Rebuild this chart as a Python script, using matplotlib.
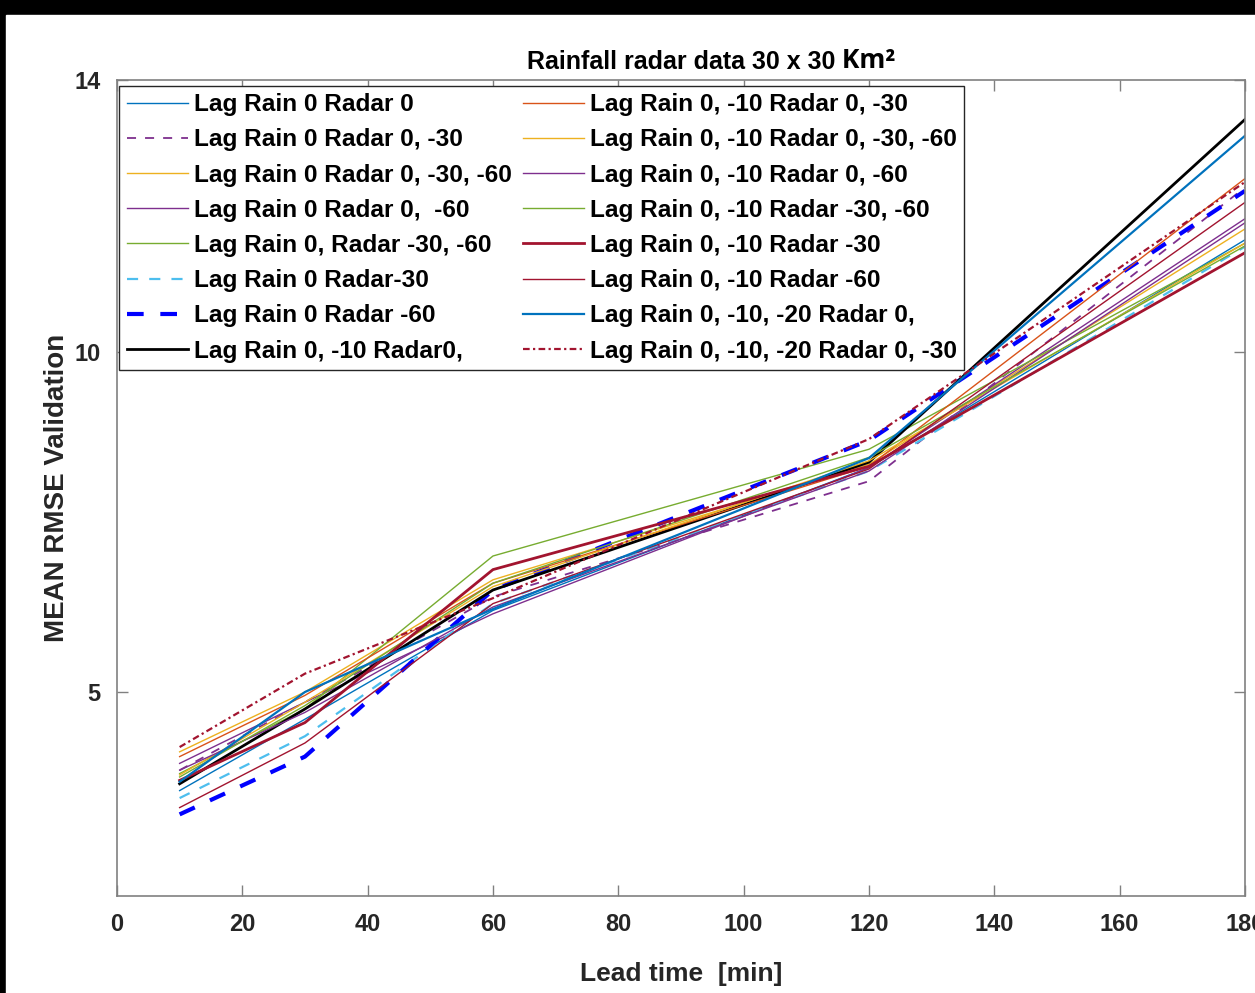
import matplotlib
matplotlib.use('Agg')
import matplotlib.pyplot as plt
from matplotlib.patches import Rectangle

plt.rcParams['font.family'] = ['Liberation Sans', 'DejaVu Sans']
plt.rcParams['font.weight'] = 'bold'

lead_time = [10, 30, 60, 120, 180]

labels = [
    'Lag Rain 0 Radar 0',
    'Lag Rain 0 Radar 0, -30',
    'Lag Rain 0 Radar 0, -30, -60',
    'Lag Rain 0 Radar 0,  -60',
    'Lag Rain 0, Radar -30, -60',
    'Lag Rain 0 Radar-30',
    'Lag Rain 0 Radar -60',
    'Lag Rain 0, -10 Radar0,',
    'Lag Rain 0, -10 Radar 0, -30',
    'Lag Rain 0, -10 Radar 0, -30, -60',
    'Lag Rain 0, -10 Radar 0, -60',
    'Lag Rain 0, -10 Radar -30, -60',
    'Lag Rain 0, -10 Radar -30',
    'Lag Rain 0, -10 Radar -60',
    'Lag Rain 0, -10, -20 Radar 0,',
    'Lag Rain 0, -10, -20 Radar 0, -30',
]

rain0_radar0 = [3.55, 4.60, 6.20, 8.30, 11.65]
rain0_radar0_30 = [3.85, 4.85, 6.40, 8.10, 12.42]
rain0_radar0_30_60 = [4.12, 5.00, 6.65, 8.35, 11.81]
rain0_radar0_60 = [3.95, 4.85, 6.15, 8.30, 11.96]
rain0_radar30_60 = [3.80, 4.75, 7.00, 8.57, 11.60]
rain0_radar30 = [3.44, 4.35, 6.30, 8.25, 11.55]
rain0_radar60 = [3.20, 4.05, 6.50, 8.70, 12.37]
rain10_radar0 = [3.65, 4.75, 6.50, 8.38, 13.42]
rain10_radar0_30 = [4.05, 4.95, 6.60, 8.32, 12.55]
rain10_radar0_30_60 = [3.78, 4.85, 6.55, 8.40, 11.60]
rain10_radar0_60 = [3.85, 4.70, 6.25, 8.25, 11.90]
rain10_radar30_60 = [3.75, 4.80, 6.60, 8.45, 11.56]
rain10_radar30 = [3.70, 4.55, 6.80, 8.32, 11.46]
rain10_radar60 = [3.30, 4.25, 6.30, 8.28, 12.20]
rain20_radar0 = [3.68, 5.00, 6.22, 8.44, 13.18]
rain20_radar0_30 = [4.19, 5.27, 6.38, 8.72, 12.50]

series = [rain0_radar0, rain0_radar0_30, rain0_radar0_30_60, rain0_radar0_60,
          rain0_radar30_60, rain0_radar30, rain0_radar60, rain10_radar0,
          rain10_radar0_30, rain10_radar0_30_60, rain10_radar0_60, rain10_radar30_60,
          rain10_radar30, rain10_radar60, rain20_radar0, rain20_radar0_30]

# colour, linestyle, linewidth
styles = [
    ('#0072BD', '-', 1.0),
    ('#7E2F8E', (0, (5, 5)), 1.3),
    ('#EDB120', '-', 1.0),
    ('#7E2F8E', '-', 1.0),
    ('#77AC30', '-', 1.0),
    ('#4DBEEE', (0, (5, 5)), 1.6),
    ('#0000FF', (0, (4, 4)), 3.0),
    ('#000000', '-', 2.0),
    ('#D95319', '-', 1.0),
    ('#EDB120', '-', 1.0),
    ('#7E2F8E', '-', 1.0),
    ('#77AC30', '-', 1.0),
    ('#A2142F', '-', 2.0),
    ('#A2142F', '-', 1.0),
    ('#0072BD', '-', 1.6),
    ('#A2142F', (0, (3, 1.5, 1, 1.5)), 1.6),
]

fig = plt.figure(figsize=(12.55, 9.93), dpi=100)
fig.patch.set_facecolor('black')
fig.add_artist(Rectangle((6 / 1255, 0), 1, (993 - 15) / 993,
                         transform=fig.transFigure, color='white', zorder=-1))
ax = fig.add_axes([0.0932, 0.0977, 0.8988, 0.8217])

for vals, lab, (c, ls, lw) in zip(series, labels, styles):
    ax.plot(lead_time, vals, color=c, linestyle=ls, linewidth=lw, label=lab)

ax.set_xlim(0, 180)
ax.set_ylim(2, 14)
ax.set_xticks(range(0, 181, 20))
ax.set_yticks([5, 10, 14])
ax.tick_params(direction='in', top=True, right=True, length=8, width=1,
               colors='#808080', labelcolor='#262626', labelsize=17, pad=12)
for s in ax.spines.values():
    s.set_color('#808080')
    s.set_linewidth(1.2)

ax.set_xlabel('Lead time  [min]', fontsize=19, fontweight='bold', color='#262626', labelpad=19)
ax.set_ylabel('MEAN RMSE Validation', fontsize=20, fontweight='bold', color='#262626', labelpad=3)

t = ax.set_title('Rainfall radar data 30 x 30', fontsize=18, fontweight='bold', pad=8)
ax.annotate(' Km²', xy=(1, 0), xycoords=t, va='bottom', ha='left',
            fontsize=19, fontweight='bold', family='Open Sans')

leg = ax.legend(ncol=2, loc='upper left', bbox_to_anchor=(0.002, 0.993),
                fontsize=17.6, handlelength=2.5, handletextpad=0.25,
                columnspacing=0.45, labelspacing=0.5, borderpad=0.3,
                borderaxespad=0, fancybox=False, framealpha=1)
leg.get_frame().set_edgecolor('#262626')
leg.get_frame().set_linewidth(1.0)

plt.savefig('out.png', dpi=100)
